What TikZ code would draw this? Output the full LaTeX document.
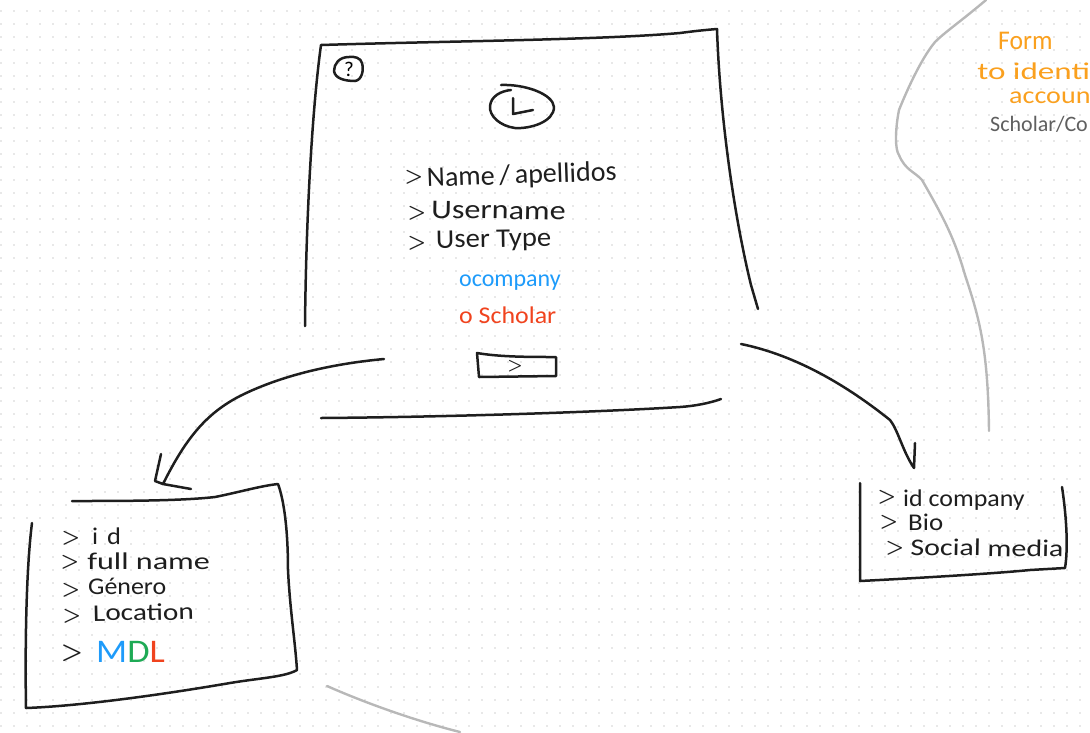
\documentclass[tikz,border=0pt]{standalone}
\usepackage{fontspec}
\setmainfont{Carlito}
\usepackage{tikz}
\usetikzlibrary{calc,positioning}
\definecolor{inkblack}{HTML}{1E1E1E}
\definecolor{inkblue}{HTML}{1E9BFA}
\definecolor{inkred}{HTML}{F0431E}
\definecolor{inkgreen}{HTML}{1EAA55}
\definecolor{inkorange}{HTML}{FAA01E}
\definecolor{inkgray}{HTML}{B8B8B8}
\definecolor{inkdark}{HTML}{5F5F5F}
\newcommand{\fsz}[1]{\fontsize{#1}{#1}\selectfont}
\tikzset{
	stroke/.style={draw=inkblack,line width=2.5pt,line cap=round,line join=round},
	soft/.style={draw=inkgray,line width=2.4pt,line cap=round},
	hand/.style={inner sep=0pt,text=inkblack,font=\fsz{24},anchor=base west},
	chev/.style={inner sep=0pt,text=inkblack,font=\fsz{20}\boldmath},
}
\begin{document}
\begin{tikzpicture}[x=1pt,y=-1pt]
	\useasboundingbox (0,0) rectangle (1090,732);
	% dots of the sheet
	\foreach \i in {0,...,83}
		\foreach \j in {0,...,56}
			\fill [black!9] (-0.3+13*\i,-3.3+13*\j) rectangle ++(2,2);

	% main window
	\draw [stroke] (305,326) .. controls (306,220) and (312,110) .. (321,45) .. controls (450,41) and (600,40) .. (680,33) .. controls (695,31) and (705,30) .. (717,29) .. controls (720,120) and (735,220) .. (751,285) -- (758,309);
	\draw [stroke] (321,418) .. controls (450,417) and (600,412) .. (680,407) .. controls (695,406) and (710,403) .. (721,399);
	\draw [stroke] (349,57) .. controls (339,57) and (334,64) .. (334,71) .. controls (335,79) and (346,81) .. (355,81) .. controls (362,80) and (364,70) .. (362,63) .. controls (361,58) and (354,56) .. (349,57);
	\node(help) [inner sep=0pt,font=\fsz{21}] at (349,69) {?};
	\draw [stroke] (501,85) .. controls (525,84) and (553,94) .. (554,107) .. controls (554,122) and (530,129) .. (515,128) .. controls (500,126) and (489,116) .. (490,106) .. controls (491,96) and (501,91) .. (511,90);
	\draw [stroke] (513,98) -- (513,114) -- (533,110);

	% fields of the form
	\node(g1) [chev] at (414,177) {$>$};
	\node(name) [hand,font=\fsz{28},rotate=2] at (427,187) {Name\,/\,apellidos};
	\node(g2) [chev] at (417,213) {$>$};
	\node(user) [hand,font=\fsz{27},xscale=1.19,rotate=-1] at (431,218) {Username};
	\node(g3) [chev] at (417,243) {$>$};
	\node(type) [hand,font=\fsz{27},xscale=1.06,rotate=1] at (436,248) {User Type};
	\node(company) [hand,text=inkblue,font=\fsz{24}] at (459,286) {ocompany};
	\node(scholar) [hand,text=inkred,font=\fsz{24},xscale=1.08] at (459,323) {o Scholar};
	\draw [stroke] (477,353) .. controls (500,357) and (530,357) .. (556,357) -- (556,376) -- (479,377) -- cycle;
	\node(next) [chev,font=\fsz{17}\boldmath] at (515,366) {$>$};

	% left table
	\draw [stroke] (72,501) .. controls (120,501) and (180,501) .. (215,497) .. controls (240,492) and (260,486) .. (278,484) .. controls (284,500) and (288,530) .. (288,570) .. controls (290,610) and (295,640) .. (297,670) .. controls (285,677) and (260,678) .. (230,683) .. controls (160,695) and (80,706) .. (26,708) .. controls (25,650) and (26,570) .. (32,523);
	\node(g4) [chev] at (71,538) {$>$};
	\node(id) [hand,xscale=1.1] at (92,544) {i\,\,d};
	\node(g5) [chev] at (70,562) {$>$};
	\node(full) [hand,xscale=1.34] at (87,569) {full name};
	\node(g6) [chev] at (71,590) {$>$};
	\node(genero) [hand,xscale=1.08] at (88,594) {Género};
	\node(g7) [chev] at (72,616) {$>$};
	\node(location) [hand,xscale=1.22,rotate=1] at (93,621) {Location};
	\node(g8) [chev,font=\fsz{26}\boldmath] at (72,653) {$>$};
	\node(mdl) [hand,font=\fsz{33},xscale=1.1] at (96,662) {\textcolor{inkblue}{M}\textcolor{inkgreen}{D}\textcolor{inkred}{L}};

	% right table
	\draw [stroke] (860,483) -- (860,581) .. controls (900,579) and (990,574) .. (1030,570) -- (1065,568) .. controls (1068,550) and (1067,520) .. (1062,487);
	\node(g9) [chev] at (887,497) {$>$};
	\node(idc) [hand,xscale=1.08] at (903,506) {id company};
	\node(g10) [chev] at (889,522) {$>$};
	\node(bio) [hand,xscale=1.12] at (908,530) {Bio};
	\node(g11) [chev] at (895,548) {$>$};
	\node(social) [hand,xscale=1.25,rotate=-1] at (910,555) {Social media};

	% connectors between the sketches
	\coordinate(fromleft) at (384,359);
	\coordinate(toleft) at (163,484);
	\coordinate(fromright) at (741,344);
	\coordinate(toright) at (914,468);
	\draw [stroke] (fromleft) .. controls (330,364) and (280,376) .. (240,396) .. controls (205,414) and (185,440) .. (toleft);
	\draw [stroke] (161,454) -- (155,481) -- (toleft) -- (191,489);
	\draw [stroke] (fromright) .. controls (790,354) and (840,380) .. (890,420) .. controls (898,430) and (903,452) .. (toright) -- (915,443);

	% grey strokes
	\draw [soft] (986,0) .. controls (960,22) and (945,32) .. (935,42) .. controls (920,60) and (905,95) .. (899,110) .. controls (895,130) and (895,150) .. (899,155) .. controls (905,170) and (915,172) .. (922,180) .. controls (945,220) and (955,240) .. (965,275) .. controls (980,320) and (988,350) .. (989,431);
	\draw [soft] (327,686) .. controls (370,705) and (420,722) .. (460,732);

	% note on the right
	\node(form) [hand,text=inkorange,font=\fsz{27},xscale=.95] at (998,49) {Form};
	\node(ident) [hand,text=inkorange,xscale=1.38] at (977,79) {to identi};
	\node(acc) [hand,text=inkorange,xscale=1.17] at (1009,103) {accoun};
	\node(kind) [hand,text=inkdark,font=\fsz{22}] at (990,131) {Scholar/Co};
\end{tikzpicture}
\end{document}
